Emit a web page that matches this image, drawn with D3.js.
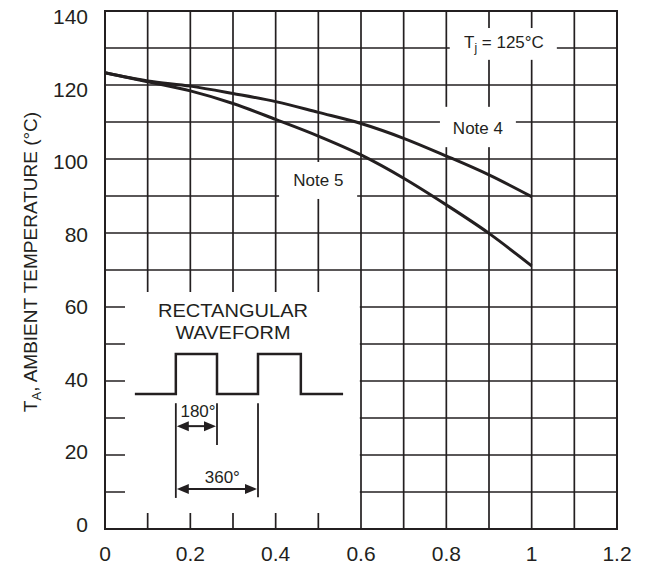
<!DOCTYPE html>
<html>
<head>
<meta charset="utf-8">
<script src="https://cdn.jsdelivr.net/npm/d3@7/dist/d3.min.js"></script>
<style>
  html, body { margin: 0; padding: 0; background: #fff; }
  svg text { font-family: "Liberation Sans", Arial, Helvetica, sans-serif; fill: #231f20; }
</style>
</head>
<body>
<svg id="chart" width="645" height="571"></svg>
<script>
// ---------------- data ----------------
const xTickValues = [0, 0.2, 0.4, 0.6, 0.8, 1, 1.2];
const xTickLabels = ["0", "0.2", "0.4", "0.6", "0.8", "1", "1.2"];
const yTickValues = [0, 20, 40, 60, 80, 100, 120, 140];
const yTickLabels = ["0", "20", "40", "60", "80", "100", "120", "140"];
const curveX = [0, 0.1, 0.2, 0.3, 0.4, 0.5, 0.6, 0.7, 0.8, 0.9, 1.0];
const note4Values = [123.3, 121.1, 119.7, 117.7, 115.5, 112.6, 109.6, 105.6, 100.8, 95.7, 89.8];
const note5Values = [123.3, 120.9, 118.4, 115.0, 110.7, 106.2, 101.1, 94.8, 87.6, 79.9, 71.1];
const yTitle = ["T", "A", ", AMBIENT TEMPERATURE (°C)"];
const tjLabel = ["T", "j", " = 125°C"];
const noteLabels = ["Note 4", "Note 5"];
const insetTitle = ["RECTANGULAR", "WAVEFORM"];
const angleLabels = ["180°", "360°"];

// ---------------- setup ----------------
const ink = "#231f20";
const svg = d3.select("#chart");
const x = d3.scaleLinear().domain([0, 1.2]).range([105, 617]);
const y = d3.scaleLinear().domain([0, 140]).range([529, 11]);
const yLab = d3.scaleLinear().domain([0, 140]).range([532, 24]);

const gridX = d3.range(0, 12.5, 1).map(d => d / 10);
const gridY = d3.range(0, 141, 10);

// grid
const grid = svg.append("g").attr("stroke", ink).attr("stroke-width", 1.7);
grid.selectAll("line.v").data(gridX).join("line")
  .attr("x1", d => x(d)).attr("x2", d => x(d))
  .attr("y1", y(0)).attr("y2", y(140));
grid.selectAll("line.h").data(gridY).join("line")
  .attr("x1", x(0)).attr("x2", x(1.2))
  .attr("y1", d => y(d)).attr("y2", d => y(d));

// white masks (inset box and label boxes)
const masks = [
  [x(0) + 20, y(70) + 22, x(0.6) - 1.2, y(0) - 16],
  [x(0.808), y(135.4), x(1.059), y(126.8)],
  [x(0.785), y(114.1), x(0.963), y(103.2)],
  [x(0.408), y(99.2), x(0.591), y(89.2)]
];
svg.append("g").selectAll("rect").data(masks).join("rect")
  .attr("x", d => d[0]).attr("y", d => d[1])
  .attr("width", d => d[2] - d[0]).attr("height", d => d[3] - d[1])
  .attr("fill", "#fff");

// border
svg.append("rect")
  .attr("x", x(0)).attr("y", y(140))
  .attr("width", x(1.2) - x(0)).attr("height", y(0) - y(140))
  .attr("fill", "none").attr("stroke", ink).attr("stroke-width", 2);

// curves
const line = d3.line().x(d => x(d[0])).y(d => y(d[1])).curve(d3.curveMonotoneX);
[note4Values, note5Values].forEach(vals => {
  svg.append("path")
    .datum(curveX.map((cx, i) => [cx, vals[i]]))
    .attr("d", line)
    .attr("fill", "none").attr("stroke", ink).attr("stroke-width", 3);
});

// tick labels
svg.append("g").selectAll("text").data(xTickValues).join("text")
  .attr("x", d => x(d)).attr("y", 561)
  .attr("text-anchor", "middle").attr("font-size", 21)
  .text((d, i) => xTickLabels[i]);
svg.append("g").selectAll("text").data(yTickValues).join("text")
  .attr("x", 88).attr("y", d => yLab(d))
  .attr("text-anchor", "end").attr("font-size", 21)
  .text((d, i) => yTickLabels[i]);

// y axis title
const yt = svg.append("text")
  .attr("transform", "translate(37," + 262 + ") rotate(-90)")
  .attr("text-anchor", "middle").attr("font-size", 19);
yt.append("tspan").text(yTitle[0]);
yt.append("tspan").attr("font-size", 13).attr("dy", 4).text(yTitle[1]);
yt.append("tspan").attr("dy", -4).text(yTitle[2]);

// Tj label
const tj = svg.append("text")
  .attr("x", x(0.935)).attr("y", y(130))
  .attr("text-anchor", "middle").attr("font-size", 17);
tj.append("tspan").text(tjLabel[0]);
tj.append("tspan").attr("font-size", 12).attr("dy", 4).text(tjLabel[1]);
tj.append("tspan").attr("dy", -4).text(tjLabel[2]);

// note labels
svg.append("text").attr("x", x(0.874)).attr("y", y(106.8))
  .attr("text-anchor", "middle").attr("font-size", 17).text(noteLabels[0]);
svg.append("text").attr("x", x(0.5)).attr("y", y(92.7))
  .attr("text-anchor", "middle").attr("font-size", 17).text(noteLabels[1]);

// inset: rectangular waveform
svg.append("text").attr("x", x(0.3)).attr("y", y(57.3))
  .attr("text-anchor", "middle").attr("font-size", 18)
  .attr("textLength", 150).attr("lengthAdjust", "spacingAndGlyphs").text(insetTitle[0]);
svg.append("text").attr("x", x(0.3)).attr("y", y(51.4))
  .attr("text-anchor", "middle").attr("font-size", 18)
  .attr("textLength", 115).attr("lengthAdjust", "spacingAndGlyphs").text(insetTitle[1]);

const wLow = 36.5, wHigh = 47.3;
const edges = [0.070, 0.166, 0.2625, 0.3586, 0.459, 0.558];
const wave = [
  [edges[0], wLow], [edges[1], wLow], [edges[1], wHigh], [edges[2], wHigh], [edges[2], wLow],
  [edges[3], wLow], [edges[3], wHigh], [edges[4], wHigh], [edges[4], wLow], [edges[5], wLow]
];
svg.append("path")
  .attr("d", d3.line().x(d => x(d[0])).y(d => y(d[1]))(wave))
  .attr("fill", "none").attr("stroke", ink).attr("stroke-width", 2.5)
  .attr("stroke-linejoin", "miter");

// dimension lines
const dimG = svg.append("g").attr("stroke", ink).attr("stroke-width", 1.8);
const dims = [
  [edges[1], 34.0, 8.4],
  [edges[2], 34.0, 22.7],
  [edges[3], 34.0, 8.6]
];
dimG.selectAll("line").data(dims).join("line")
  .attr("x1", d => x(d[0])).attr("x2", d => x(d[0]))
  .attr("y1", d => y(d[1])).attr("y2", d => y(d[2]));

function arrow(x0, x1, yy) {
  const X0 = x(x0) + 1, X1 = x(x1) - 1, Y = y(yy);
  const L = 12, H = 5;
  svg.append("line").attr("x1", X0 + L - 1).attr("x2", X1 - L + 1)
    .attr("y1", Y).attr("y2", Y).attr("stroke", ink).attr("stroke-width", 2);
  svg.append("path").attr("fill", ink)
    .attr("d", `M${X0},${Y}L${X0 + L},${Y - H}L${X0 + L},${Y + H}Z`);
  svg.append("path").attr("fill", ink)
    .attr("d", `M${X1},${Y}L${X1 - L},${Y - H}L${X1 - L},${Y + H}Z`);
}
arrow(edges[1], edges[2], 27.8);
arrow(edges[1], edges[3], 10.8);

svg.append("text").attr("x", x(0.218)).attr("y", y(30.3))
  .attr("text-anchor", "middle").attr("font-size", 17).text(angleLabels[0]);
svg.append("text").attr("x", x(0.275)).attr("y", y(12.4))
  .attr("text-anchor", "middle").attr("font-size", 17).text(angleLabels[1]);
</script>
</body>
</html>
